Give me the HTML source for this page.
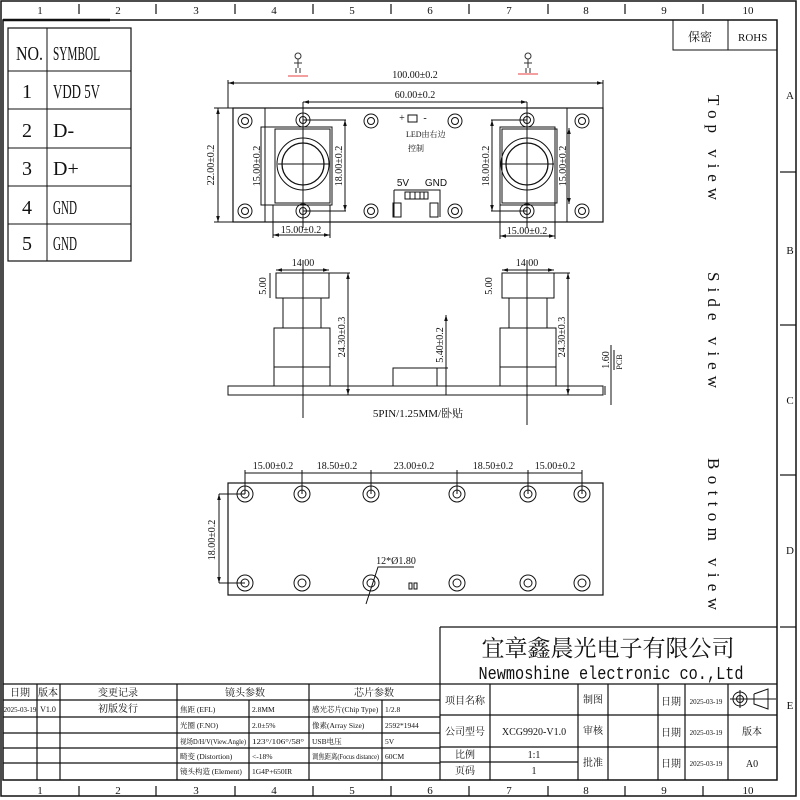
<!DOCTYPE html>
<html><head><meta charset="utf-8"><style>
html,body{margin:0;padding:0;background:#fff;}
svg{display:block;}
text{font-family:"Liberation Serif","Noto Serif CJK SC","Noto Sans CJK SC",serif;fill:#111;}
.s{font-family:"Liberation Sans","Noto Sans CJK SC",sans-serif;}
.m{font-family:"Liberation Mono","Noto Sans CJK SC",monospace;}
</style></head><body>
<svg width="800" height="800" viewBox="0 0 800 800" xmlns="http://www.w3.org/2000/svg">
<defs>
<marker id="a" viewBox="0 0 10 10" refX="10" refY="5" markerWidth="6" markerHeight="6" orient="auto-start-reverse"><path d="M0,2 L10,5 L0,8z" fill="#111"/></marker>
</defs>
<rect width="800" height="800" fill="#fff"/>
<g stroke="#111" fill="none">
<rect x="1" y="1" width="795" height="795" stroke-width="1.5"/>
<rect x="3" y="20" width="774" height="760" stroke-width="1.5"/>
<line x1="3" y1="20" x2="110" y2="20" stroke-width="2.5"/>
<g stroke-width="1.2">
<line x1="79" y1="4" x2="79" y2="14"/><line x1="156" y1="4" x2="156" y2="14"/><line x1="235" y1="4" x2="235" y2="14"/><line x1="313" y1="4" x2="313" y2="14"/><line x1="391" y1="4" x2="391" y2="14"/><line x1="469" y1="4" x2="469" y2="14"/><line x1="548" y1="4" x2="548" y2="14"/><line x1="625" y1="4" x2="625" y2="14"/><line x1="703" y1="4" x2="703" y2="14"/>
<line x1="79" y1="786" x2="79" y2="796"/><line x1="156" y1="786" x2="156" y2="796"/><line x1="235" y1="786" x2="235" y2="796"/><line x1="313" y1="786" x2="313" y2="796"/><line x1="391" y1="786" x2="391" y2="796"/><line x1="469" y1="786" x2="469" y2="796"/><line x1="548" y1="786" x2="548" y2="796"/><line x1="625" y1="786" x2="625" y2="796"/><line x1="703" y1="786" x2="703" y2="796"/>
<line x1="780" y1="172" x2="796" y2="172"/><line x1="780" y1="325" x2="796" y2="325"/><line x1="780" y1="475" x2="796" y2="475"/><line x1="780" y1="627" x2="796" y2="627"/>
</g>
<rect x="8" y="28" width="123" height="233" stroke-width="1.2"/>
<line x1="47" y1="28" x2="47" y2="261"/>
<line x1="8" y1="71" x2="131" y2="71"/><line x1="8" y1="109" x2="131" y2="109"/><line x1="8" y1="148" x2="131" y2="148"/><line x1="8" y1="186" x2="131" y2="186"/><line x1="8" y1="224" x2="131" y2="224"/>
<rect x="673" y="20" width="104" height="30"/><line x1="728" y1="20" x2="728" y2="50"/>

<!-- stamps -->
<g stroke="#333" stroke-width="1">
<circle cx="298" cy="56" r="3"/><line x1="298" y1="59" x2="298" y2="68"/><line x1="294" y1="63" x2="302" y2="63"/><line x1="296" y1="68" x2="296" y2="73"/><line x1="300" y1="68" x2="300" y2="73"/>
<circle cx="528" cy="56" r="3"/><line x1="528" y1="59" x2="528" y2="68"/><line x1="524" y1="63" x2="532" y2="63"/><line x1="526" y1="68" x2="526" y2="73"/><line x1="530" y1="68" x2="530" y2="73"/>
</g>
<line x1="288" y1="76" x2="308" y2="76" stroke="#e66" stroke-width="1.2"/>
<line x1="518" y1="74" x2="538" y2="74" stroke="#e66" stroke-width="1.2"/>

<!-- TOP VIEW -->
<rect x="233" y="108" width="370" height="114" stroke-width="1.2"/>
<line x1="265" y1="108" x2="265" y2="222"/><line x1="567" y1="108" x2="567" y2="222"/>
<g stroke-width="1">
<circle cx="245" cy="121" r="7"/><circle cx="245" cy="121" r="3.5"/>
<circle cx="245" cy="211" r="7"/><circle cx="245" cy="211" r="3.5"/>
<circle cx="303" cy="120" r="7"/><circle cx="303" cy="120" r="3.5"/>
<circle cx="303" cy="211" r="7"/><circle cx="303" cy="211" r="3.5"/>
<circle cx="371" cy="121" r="7"/><circle cx="371" cy="121" r="3.5"/>
<circle cx="371" cy="211" r="7"/><circle cx="371" cy="211" r="3.5"/>
<circle cx="455" cy="121" r="7"/><circle cx="455" cy="121" r="3.5"/>
<circle cx="455" cy="211" r="7"/><circle cx="455" cy="211" r="3.5"/>
<circle cx="527" cy="120" r="7"/><circle cx="527" cy="120" r="3.5"/>
<circle cx="527" cy="211" r="7"/><circle cx="527" cy="211" r="3.5"/>
<circle cx="582" cy="121" r="7"/><circle cx="582" cy="121" r="3.5"/>
<circle cx="582" cy="211" r="7"/><circle cx="582" cy="211" r="3.5"/>
</g>
<rect x="261" y="127" width="71" height="78"/><rect x="275" y="129" width="55" height="74"/>
<circle cx="303" cy="164" r="26"/><circle cx="303" cy="164" r="21" stroke-width="1.3"/>
<line x1="278" y1="164" x2="330" y2="164"/><line x1="303" y1="102" x2="303" y2="228"/>
<rect x="500" y="127" width="55" height="78"/>
<rect x="502" y="129" width="55" height="74"/>
<circle cx="527" cy="164" r="26"/><circle cx="527" cy="164" r="21" stroke-width="1.3"/>
<line x1="500" y1="164" x2="554" y2="164"/><line x1="527" y1="102" x2="527" y2="228"/>
<line x1="228" y1="83" x2="603" y2="83" marker-start="url(#a)" marker-end="url(#a)"/>
<line x1="228" y1="80" x2="228" y2="108"/><line x1="603" y1="80" x2="603" y2="108"/>
<line x1="303" y1="102" x2="527" y2="102" marker-start="url(#a)" marker-end="url(#a)"/>
<line x1="218" y1="108" x2="218" y2="222" marker-start="url(#a)" marker-end="url(#a)"/>
<line x1="214" y1="108" x2="233" y2="108"/><line x1="214" y1="222" x2="233" y2="222"/>
<line x1="345" y1="120" x2="345" y2="211" marker-start="url(#a)" marker-end="url(#a)"/>
<line x1="303" y1="120" x2="346" y2="120"/><line x1="303" y1="211" x2="346" y2="211"/>
<line x1="492" y1="120" x2="492" y2="211" marker-start="url(#a)" marker-end="url(#a)"/>
<line x1="491" y1="120" x2="527" y2="120"/><line x1="491" y1="211" x2="527" y2="211"/>
<line x1="569" y1="128" x2="569" y2="204" marker-start="url(#a)" marker-end="url(#a)"/>
<line x1="273" y1="235" x2="330" y2="235" marker-start="url(#a)" marker-end="url(#a)"/>
<line x1="273" y1="205" x2="273" y2="238"/><line x1="330" y1="205" x2="330" y2="238"/>
<line x1="500" y1="236" x2="555" y2="236" marker-start="url(#a)" marker-end="url(#a)"/>
<line x1="500" y1="205" x2="500" y2="239"/><line x1="555" y1="205" x2="555" y2="239"/>
<polyline points="394,190 440,190 440,217"/><polyline points="394,190 394,217"/>
<rect x="393" y="203" width="8" height="14"/><rect x="430" y="203" width="8" height="14"/>
<rect x="405" y="192" width="23" height="7"/>
<line x1="410" y1="192" x2="410" y2="199"/><line x1="415" y1="192" x2="415" y2="199"/><line x1="420" y1="192" x2="420" y2="199"/><line x1="424" y1="192" x2="424" y2="199"/>
<rect x="408" y="115" width="9" height="7"/>

<!-- SIDE VIEW -->
<rect x="228" y="386" width="375" height="9"/>
<line x1="605" y1="386" x2="605" y2="395"/>
<rect x="276" y="273" width="53" height="25"/><rect x="283" y="298" width="38" height="30"/><rect x="274" y="328" width="56" height="58"/><line x1="274" y1="367" x2="330" y2="367"/>
<line x1="303" y1="260" x2="303" y2="418"/>
<rect x="502" y="273" width="52" height="25"/><rect x="509" y="298" width="38" height="30"/><rect x="500" y="328" width="56" height="58"/><line x1="500" y1="367" x2="556" y2="367"/>
<line x1="527" y1="260" x2="527" y2="425"/>
<rect x="393" y="368" width="44" height="18"/>
<line x1="276" y1="270" x2="329" y2="270" marker-start="url(#a)" marker-end="url(#a)"/>
<line x1="270" y1="273" x2="270" y2="298"/>
<line x1="329" y1="273" x2="350" y2="273"/>
<line x1="348" y1="273" x2="348" y2="395" marker-start="url(#a)" marker-end="url(#a)"/>
<line x1="446" y1="315" x2="446" y2="395" marker-start="url(#a)"/>
<line x1="437" y1="368" x2="448" y2="368"/>
<line x1="502" y1="270" x2="554" y2="270" marker-start="url(#a)" marker-end="url(#a)"/>
<line x1="554" y1="273" x2="570" y2="273"/>
<line x1="568" y1="273" x2="568" y2="395" marker-start="url(#a)" marker-end="url(#a)"/>
<line x1="611" y1="345" x2="611" y2="405"/><line x1="614" y1="350" x2="614" y2="370"/>

<!-- BOTTOM VIEW -->
<rect x="228" y="483" width="375" height="112" stroke-width="1.2"/>
<g stroke-width="1">
<circle cx="245" cy="494" r="8"/><circle cx="245" cy="494" r="4"/><circle cx="245" cy="583" r="8"/><circle cx="245" cy="583" r="4"/>
<circle cx="302" cy="494" r="8"/><circle cx="302" cy="494" r="4"/><circle cx="302" cy="583" r="8"/><circle cx="302" cy="583" r="4"/>
<circle cx="371" cy="494" r="8"/><circle cx="371" cy="494" r="4"/><circle cx="371" cy="583" r="8"/><circle cx="371" cy="583" r="4"/>
<circle cx="457" cy="494" r="8"/><circle cx="457" cy="494" r="4"/><circle cx="457" cy="583" r="8"/><circle cx="457" cy="583" r="4"/>
<circle cx="528" cy="494" r="8"/><circle cx="528" cy="494" r="4"/><circle cx="528" cy="583" r="8"/><circle cx="528" cy="583" r="4"/>
<circle cx="582" cy="494" r="8"/><circle cx="582" cy="494" r="4"/><circle cx="582" cy="583" r="8"/><circle cx="582" cy="583" r="4"/>
</g>
<rect x="409" y="583" width="3" height="6"/><rect x="414" y="583" width="3" height="6"/>
<line x1="245" y1="473" x2="582" y2="473"/>
<line x1="245" y1="470" x2="245" y2="494"/><line x1="302" y1="470" x2="302" y2="494"/><line x1="371" y1="470" x2="371" y2="494"/><line x1="457" y1="470" x2="457" y2="494"/><line x1="528" y1="470" x2="528" y2="494"/><line x1="582" y1="470" x2="582" y2="494"/>
<line x1="219" y1="494" x2="219" y2="583" marker-start="url(#a)" marker-end="url(#a)"/>
<line x1="219" y1="494" x2="245" y2="494"/><line x1="219" y1="583" x2="245" y2="583"/>
<polyline points="366,604 378,567 414,567"/>

<g stroke-width="1.2">
<line x1="3" y1="684" x2="440" y2="684"/><line x1="3" y1="700" x2="440" y2="700"/>
<line x1="3" y1="717" x2="440" y2="717"/><line x1="3" y1="733" x2="440" y2="733"/><line x1="3" y1="748" x2="440" y2="748"/><line x1="3" y1="763" x2="440" y2="763"/>
<line x1="37" y1="684" x2="37" y2="780"/><line x1="60" y1="684" x2="60" y2="780"/><line x1="177" y1="684" x2="177" y2="780"/><line x1="249" y1="700" x2="249" y2="780"/><line x1="309" y1="684" x2="309" y2="780"/><line x1="382" y1="700" x2="382" y2="780"/>
<line x1="440" y1="627" x2="777" y2="627"/><line x1="440" y1="627" x2="440" y2="780"/>
<line x1="440" y1="684" x2="777" y2="684"/><line x1="440" y1="715" x2="777" y2="715"/><line x1="440" y1="747" x2="777" y2="747"/><line x1="440" y1="762" x2="578" y2="762"/>
<line x1="490" y1="684" x2="490" y2="780"/><line x1="578" y1="684" x2="578" y2="780"/><line x1="608" y1="684" x2="608" y2="780"/><line x1="658" y1="684" x2="658" y2="780"/><line x1="685" y1="684" x2="685" y2="780"/><line x1="728" y1="684" x2="728" y2="780"/>
</g>
<circle cx="740" cy="699" r="7"/><circle cx="740" cy="699" r="3.5"/><line x1="730" y1="699" x2="776" y2="699"/><line x1="740" y1="690" x2="740" y2="708"/>
<polyline points="754,694 768,689 768,709 754,704 754,694"/>
</g>

<g font-size="11" text-anchor="middle">
<text x="40" y="14">1</text><text x="118" y="14">2</text><text x="196" y="14">3</text><text x="274" y="14">4</text><text x="352" y="14">5</text><text x="430" y="14">6</text><text x="509" y="14">7</text><text x="586" y="14">8</text><text x="664" y="14">9</text><text x="748" y="14">10</text>
<text x="40" y="794">1</text><text x="118" y="794">2</text><text x="196" y="794">3</text><text x="274" y="794">4</text><text x="352" y="794">5</text><text x="430" y="794">6</text><text x="509" y="794">7</text><text x="586" y="794">8</text><text x="664" y="794">9</text><text x="748" y="794">10</text>
<text x="790" y="99">A</text><text x="790" y="254">B</text><text x="790" y="404">C</text><text x="790" y="554">D</text><text x="790" y="709">E</text>
</g>
<g font-size="20">
<text x="16" y="60" textLength="27" lengthAdjust="spacingAndGlyphs">NO.</text><text x="53" y="60" textLength="47" lengthAdjust="spacingAndGlyphs">SYMBOL</text>
<text x="22" y="98">1</text><text x="53" y="98" textLength="47" lengthAdjust="spacingAndGlyphs">VDD 5V</text>
<text x="22" y="137">2</text><text x="53" y="137">D-</text>
<text x="22" y="175">3</text><text x="53" y="175">D+</text>
<text x="22" y="214">4</text><text x="53" y="214" textLength="24" lengthAdjust="spacingAndGlyphs">GND</text>
<text x="22" y="250">5</text><text x="53" y="250" textLength="24" lengthAdjust="spacingAndGlyphs">GND</text>
</g>
<text x="688" y="41" font-size="12">保密</text><text x="738" y="41" font-size="11">ROHS</text>

<g font-size="10" text-anchor="middle">
<text x="415" y="78">100.00±0.2</text>
<text x="415" y="98">60.00±0.2</text>
<text x="301" y="233">15.00±0.2</text>
<text x="527" y="234">15.00±0.2</text>
<text transform="translate(214,165) rotate(-90)">22.00±0.2</text>
<text transform="translate(260,166) rotate(-90)">15.00±0.2</text>
<text transform="translate(342,166) rotate(-90)">18.00±0.2</text>
<text transform="translate(489,166) rotate(-90)">18.00±0.2</text>
<text transform="translate(566,166) rotate(-90)">15.00±0.2</text>
<text x="303" y="266">14.00</text><text x="527" y="266">14.00</text>
<text transform="translate(266,286) rotate(-90)">5.00</text>
<text transform="translate(492,286) rotate(-90)">5.00</text>
<text transform="translate(345,337) rotate(-90)">24.30±0.3</text>
<text transform="translate(565,337) rotate(-90)">24.30±0.3</text>
<text transform="translate(443,345) rotate(-90)">5.40±0.2</text>
<text transform="translate(609,360) rotate(-90)">1.60</text>
<text transform="translate(622,362) rotate(-90)" font-size="8">PCB</text>
<text x="418" y="417" font-size="11">5PIN/1.25MM/卧贴</text>
<text x="273" y="469">15.00±0.2</text><text x="337" y="469">18.50±0.2</text><text x="414" y="469">23.00±0.2</text><text x="493" y="469">18.50±0.2</text><text x="555" y="469">15.00±0.2</text>
<text transform="translate(215,540) rotate(-90)">18.00±0.2</text>
<text x="396" y="564">12*Ø1.80</text>
<text x="403" y="186" class="s">5V</text><text x="436" y="186" class="s">GND</text>
<text x="402" y="121">+</text><text x="425" y="121">-</text>
</g>
<text x="406" y="137" font-size="8">LED由右边</text><text x="408" y="151" font-size="8">控制</text>
<g class="s" font-size="17" fill="#333">
<text transform="translate(708,95) rotate(90)" textLength="105" lengthAdjust="spacing">Top view</text>
<text transform="translate(708,272) rotate(90)" textLength="116" lengthAdjust="spacing">Side view</text>
<text transform="translate(708,458) rotate(90)" textLength="152" lengthAdjust="spacing">Bottom view</text>
</g>

<text x="608" y="656" font-size="23" text-anchor="middle">宜章鑫晨光电子有限公司</text>
<text x="611" y="679" font-size="18" text-anchor="middle" class="m" textLength="265" lengthAdjust="spacingAndGlyphs">Newmoshine electronic co.,Ltd</text>
<g font-size="10" text-anchor="middle">
<text x="465" y="704">项目名称</text><text x="465" y="735">公司型号</text><text x="465" y="758">比例</text><text x="465" y="774">页码</text>
<text x="534" y="735">XCG9920-V1.0</text><text x="534" y="758">1:1</text><text x="534" y="774">1</text>
<text x="593" y="703">制图</text><text x="593" y="734">审核</text><text x="593" y="766">批准</text>
<text x="671" y="705">日期</text><text x="671" y="736">日期</text><text x="671" y="767">日期</text>
<text x="706" y="704" font-size="7">2025-03-19</text><text x="706" y="735" font-size="7">2025-03-19</text><text x="706" y="766" font-size="7">2025-03-19</text>
<text x="752" y="735">版本</text><text x="752" y="767">A0</text>
<text x="20" y="696">日期</text><text x="48" y="696">版本</text><text x="118" y="696">变更记录</text><text x="245" y="696">镜头参数</text><text x="374" y="696">芯片参数</text>
<text x="20" y="712" font-size="7">2025-03-19</text><text x="48" y="712" font-size="8">V1.0</text><text x="118" y="712">初版发行</text>
</g>
<g font-size="7.5">
<text x="180" y="712">焦距 (EFL)</text><text x="252" y="712">2.8MM</text><text x="312" y="712">感光芯片(Chip Type)</text><text x="385" y="712">1/2.8</text>
<text x="180" y="728">光圈 (F.NO)</text><text x="252" y="728">2.0±5%</text><text x="312" y="728">像素(Array Size)</text><text x="385" y="728">2592*1944</text>
<text x="180" y="744" textLength="66" lengthAdjust="spacingAndGlyphs">视场D/H/V(View.Angle)</text><text x="252" y="744" textLength="52" lengthAdjust="spacingAndGlyphs">123°/106°/58°</text><text x="312" y="744">USB电压</text><text x="385" y="744">5V</text>
<text x="180" y="759">畸变 (Distortion)</text><text x="252" y="759">&lt;-18%</text><text x="312" y="759" textLength="67" lengthAdjust="spacingAndGlyphs">调焦距离(Focus distance)</text><text x="385" y="759">60CM</text>
<text x="180" y="774">镜头构造 (Element)</text><text x="252" y="774">1G4P+650IR</text>
</g>
</svg>
</body></html>
